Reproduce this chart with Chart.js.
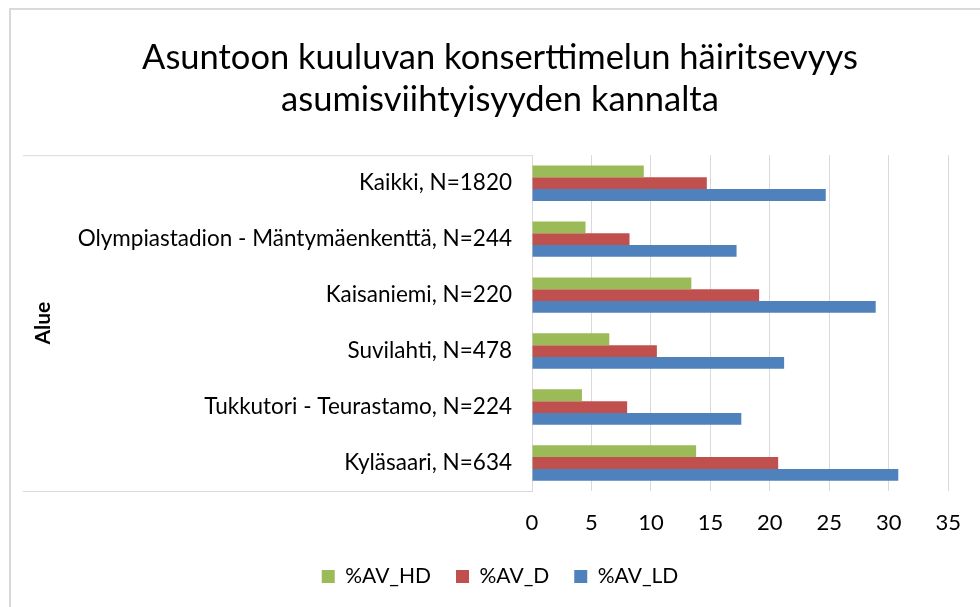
<!DOCTYPE html>
<html>
<head>
<meta charset="utf-8">
<script src="https://cdn.jsdelivr.net/npm/chart.js@4.4.0/dist/chart.umd.min.js"></script>
<style>
  html, body { margin: 0; padding: 0; background: #fff; }
  #wrap { position: relative; width: 980px; height: 607px; }
</style>
</head>
<body>
<div id="wrap"><canvas id="c" width="980" height="607"></canvas></div>
<script>
// ── Data ────────────────────────────────────────────────────
const alueet = [
  'Kaikki, N=1820',
  'Olympiastadion - Mäntymäenkenttä, N=244',
  'Kaisaniemi, N=220',
  'Suvilahti, N=478',
  'Tukkutori - Teurastamo, N=224',
  'Kyläsaari, N=634'
];
const avHD = [9.4, 4.5, 13.4, 6.5, 4.2, 13.8];
const avD  = [14.7, 8.2, 19.1, 10.5, 8.0, 20.7];
const avLD = [24.7, 17.2, 28.9, 21.2, 17.6, 30.8];
const xMax = 35;
const xStep = 5;

const FONT = 'Lato';
const GRID = '#d9d9d9';

// Frame around the chart and the short lines left of the plot
const frame = {
  id: 'frame',
  beforeDraw(chart) {
    const ctx = chart.ctx;
    ctx.save();
    ctx.fillStyle = '#fff';
    ctx.fillRect(0, 0, chart.width, chart.height);
    ctx.restore();
  },
  afterDraw(chart) {
    const { ctx, chartArea: a } = chart;
    ctx.save();
    ctx.strokeStyle = GRID;
    ctx.lineWidth = 2;
    ctx.beginPath();
    ctx.moveTo(10, chart.height); ctx.lineTo(10, 9); ctx.lineTo(chart.width, 9);
    ctx.stroke();
    ctx.lineWidth = 1;
    ctx.beginPath();
    ctx.moveTo(23, a.top + 0.5); ctx.lineTo(a.left, a.top + 0.5);
    ctx.moveTo(23, a.bottom + 0.5); ctx.lineTo(a.left, a.bottom + 0.5);
    ctx.stroke();
    ctx.restore();
  }
};

new Chart(document.getElementById('c').getContext('2d'), {
  type: 'bar',
  data: {
    labels: alueet,
    datasets: [
      { label: '%AV_HD', data: avHD, backgroundColor: '#9bbb59' },
      { label: '%AV_D',  data: avD,  backgroundColor: '#c0504d' },
      { label: '%AV_LD', data: avLD, backgroundColor: '#4f81bd' }
    ]
  },
  options: {
    indexAxis: 'y',
    responsive: false,
    animation: false,
    devicePixelRatio: 1,
    categoryPercentage: 0.633,
    barPercentage: 1,
    layout: { padding: { left: 51, right: 31, top: 0, bottom: 10 } },
    plugins: {
      title: {
        display: true,
        text: ['Asuntoon kuuluvan konserttimelun häiritsevyys', 'asumisviihtyisyyden kannalta'],
        color: '#000',
        font: { family: FONT, size: 34.5, weight: 'normal', lineHeight: 1.22 },
        padding: { top: 37, bottom: 34 }
      },
      legend: {
        position: 'bottom',
        labels: {
          color: '#000',
          font: { family: FONT, size: 21 },
          boxWidth: 13, boxHeight: 13,
          padding: 25
        }
      },
      tooltip: { enabled: false }
    },
    scales: {
      x: {
        min: 0, max: xMax,
        ticks: { stepSize: xStep, color: '#000', font: { family: FONT, size: 22 }, padding: 19 },
        grid: { color: GRID, drawTicks: false },
        border: { display: false },
        afterFit: s => { s.height = 50; }
      },
      y: {
        ticks: { color: '#000', font: { family: FONT, size: 22.5 }, padding: 20 },
        grid: { display: false, drawTicks: false },
        border: { display: true, color: GRID },
        title: {
          display: true, text: 'Alue', color: '#000',
          font: { family: FONT, size: 21, weight: 'bold' },
          padding: { top: -20, bottom: 0 }
        },
        afterFit: s => { s.width = 481; }
      }
    }
  },
  plugins: [frame]
});
</script>
</body>
</html>
